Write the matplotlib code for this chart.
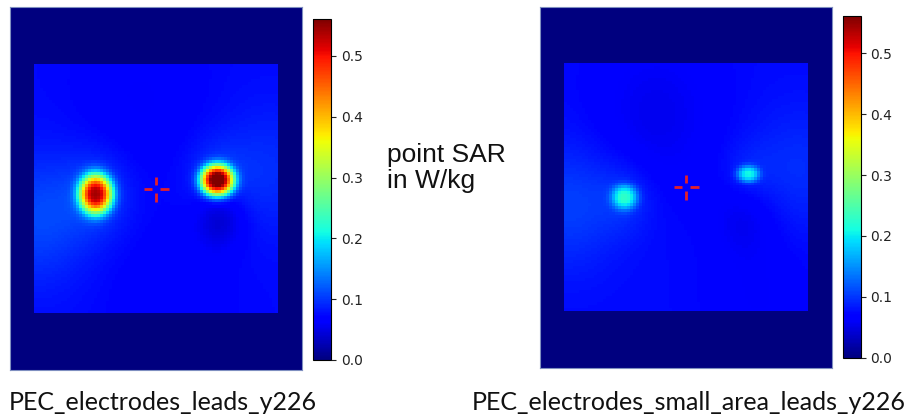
import numpy as np
import matplotlib.pyplot as plt
from matplotlib.path import Path

# colour scale
vmin, vmax = 0.0, 0.561
cbar_ticks = [0.0, 0.1, 0.2, 0.3, 0.4, 0.5]

titles = ["PEC_electrodes_leads_y226", "PEC_electrodes_small_area_leads_y226"]
side_label = "point SAR\nin W/kg"

# phantom region inside each map (fractions of width / height, y from top)
inner_x = [0.079, 0.918]
inner_y = [0.16, 0.84]
inner_base = 0.075

# electrode hot spots: centre x, centre y, peak SAR above background, half widths
left_hx = [0.295, 0.709]
left_hy = [0.515, 0.477]
left_peak = [0.43, 0.50]
left_sx = [0.056, 0.056]
left_sy = [0.054, 0.042]

right_hx = [0.291, 0.712]
right_hy = [0.529, 0.463]
right_peak = [0.13, 0.12]
right_sx = [0.044, 0.038]
right_sy = [0.034, 0.023]

# slow background variation and halos: x, y, amplitude, width
left_bg_x = [0.10, 0.88, 0.72, 0.45, 0.55, 0.295, 0.709]
left_bg_y = [0.58, 0.45, 0.58, 0.25, 0.80, 0.515, 0.470]
left_bg_amp = [0.035, 0.02, -0.04, -0.012, -0.01, 0.03, 0.025]
left_bg_w = [0.12, 0.12, 0.06, 0.15, 0.15, 0.08, 0.07]

right_bg_x = [0.10, 0.88, 0.70, 0.40, 0.75, 0.291, 0.712]
right_bg_y = [0.55, 0.45, 0.58, 0.30, 0.80, 0.529, 0.463]
right_bg_amp = [0.03, 0.02, -0.02, -0.02, -0.012, 0.02, 0.015]
right_bg_w = [0.12, 0.12, 0.08, 0.15, 0.12, 0.07, 0.06]

nx, ny = 97, 121


def sar_map(hx, hy, peak, sx, sy, bx, by, bamp, bw):
    xs = (np.arange(nx) + 0.5) / nx
    ys = (np.arange(ny) + 0.5) / ny
    X, Y = np.meshgrid(xs, ys)
    f = np.full(X.shape, inner_base)
    for x0, y0, a, w in zip(bx, by, bamp, bw):
        f += a * np.exp(-((X - x0) ** 2 + (Y - y0) ** 2) / (2 * w ** 2))
    for x0, y0, p, wx, wy in zip(hx, hy, peak, sx, sy):
        r2 = ((X - x0) / wx) ** 2 + ((Y - y0) / wy) ** 2
        f += p * np.exp(-r2 ** 1.4)
    inside = (X > inner_x[0]) & (X < inner_x[1]) & (Y > inner_y[0]) & (Y < inner_y[1])
    return np.where(inside, f, 0.0)


maps = [
    sar_map(left_hx, left_hy, left_peak, left_sx, left_sy, left_bg_x, left_bg_y, left_bg_amp, left_bg_w),
    sar_map(right_hx, right_hy, right_peak, right_sx, right_sy, right_bg_x, right_bg_y, right_bg_amp, right_bg_w),
]

# crosshair with a gap in the middle
cross = Path([(-1, 0), (-0.3, 0), (0.3, 0), (1, 0), (0, -1), (0, -0.3), (0, 0.3), (0, 1)],
             [Path.MOVETO, Path.LINETO] * 4)

fig = plt.figure(figsize=(9.18, 4.2), dpi=100)

img_pos = [[0.011, 0.119, 0.318, 0.864], [0.588, 0.124, 0.318, 0.860]]
cb_pos = [[0.341, 0.143, 0.0196, 0.812], [0.918, 0.148, 0.0196, 0.814]]
title_x = [0.009, 0.514]

for k in range(2):
    ax = fig.add_axes(img_pos[k])
    im = ax.imshow(maps[k], cmap='jet', vmin=vmin, vmax=vmax, extent=[0, 1, 1, 0],
                   aspect='auto', interpolation='nearest')
    ax.plot([0.5], [0.5], marker=cross, markersize=18, mew=2, color='#e3202b', ls='none')
    ax.set_xlim(0, 1)
    ax.set_ylim(1, 0)
    ax.set_xticks([])
    ax.set_yticks([])
    for s in ax.spines.values():
        s.set_color('#7f8fc0')
        s.set_linewidth(0.8)

    cax = fig.add_axes(cb_pos[k])
    cb = fig.colorbar(im, cax=cax, ticks=cbar_ticks, format='%.1f')
    cb.ax.tick_params(labelsize=10, colors='#222222', length=3.5, width=0.8)
    cb.outline.set_linewidth(0.8)

    fig.text(title_x[k], 0.024, titles[k], fontsize=18, family='Lato', ha='left', va='baseline',
             color='#111111')

fig.text(0.422, 0.60, side_label, fontsize=19, family='Liberation Sans', ha='left', va='center',
         linespacing=1.14, color='#111111')

fig.savefig('out.png', dpi=100)
